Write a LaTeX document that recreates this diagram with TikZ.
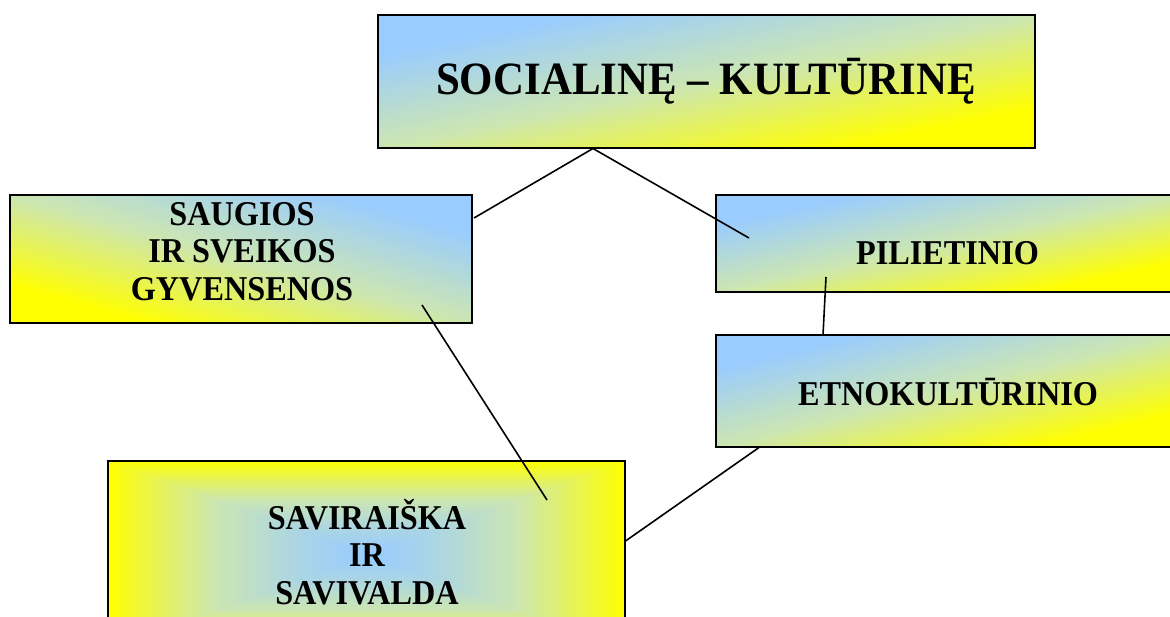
\documentclass[tikz,border=0pt]{standalone}
\usepackage{fontspec}
\setmainfont{Liberation Serif}
\newfontfamily\tallfont[FakeStretch=0.927]{Liberation Serif}
\usetikzlibrary{calc}
\definecolor{skyb}{RGB}{153,204,255}
\definecolor{midc}{RGB}{204,230,178}
\definecolor{yel}{RGB}{255,255,0}
% diagonal gradient stretched over a w x h box whose top-left corner is (x0,y0)
\newcommand\diagshade[5]{%
  \begin{scope}[transform canvas={shift={(#1,#2)}, xscale=#3/100, yscale=#4/100}]
    \shade[top color=skyb, bottom color=yel, middle color=midc, shading angle=#5] (0,0) rectangle (100,100);
  \end{scope}}
\begin{document}
\begin{tikzpicture}[x=1pt,y=-1pt,
  box/.style={draw=black, line width=2pt, rectangle, inner sep=0pt},
  bigtxt/.style={font=\tallfont\bfseries\fontsize{46.3pt}{50pt}\selectfont, anchor=base, inner sep=0pt},
  txt/.style={font=\tallfont\bfseries\fontsize{34.8pt}{37.5pt}\selectfont, anchor=base, align=center, inner sep=0pt},
  link/.style={line width=1.6pt, draw=black}]
\useasboundingbox (0,0) rectangle (1170,616);
\clip (0,0) rectangle (1170,616);
\fill[white] (0,0) rectangle (1170,616);

% gradient fills
\diagshade{378}{15}{657}{133}{45}
\diagshade{10}{195}{462}{128}{-45}
\diagshade{716}{195}{457}{97}{45}
\diagshade{716}{335}{457}{112}{45}

% rectangular centre gradient for the last box
\foreach \i in {0,...,69}{
  \pgfmathsetmacro\s{1-\i/70}
  \pgfmathsetmacro\t{\s^1.3}
  \pgfmathtruncatemacro\hi{\t>0.5}
  \ifnum\hi=1
    \pgfmathtruncatemacro\p{200*\t-100}
    \fill[yel!\p!midc] ({366.5-258.5*\s},{555-94*\s}) rectangle ({366.5+258.5*\s},{555+94*\s});
  \else
    \pgfmathtruncatemacro\p{200*\t}
    \fill[midc!\p!skyb] ({366.5-258.5*\s},{555-94*\s}) rectangle ({366.5+258.5*\s},{555+94*\s});
  \fi
}

% boxes
\node[box, minimum width=657pt, minimum height=133pt] (soc) at (706.5,81.5) {};
\node[box, minimum width=462pt, minimum height=128pt] (saug) at (241,259) {};
\node[box, minimum width=457pt, minimum height=97pt] (pil) at (944.5,243.5) {};
\node[box, minimum width=457pt, minimum height=112pt] (etno) at (944.5,391) {};
\node[box, minimum width=517pt, minimum height=188pt] (savi) at (366.5,555) {};

% texts
\node[bigtxt] (socT) at (706,94) {SOCIALINĘ – KULTŪRINĘ};
\node[txt] (saugT) at (242,300) {SAUGIOS\\IR SVEIKOS\\GYVENSENOS};
\node[txt] (pilT) at (947.5,264) {PILIETINIO};
\node[txt] (etnoT) at (948,405) {ETNOKULTŪRINIO};
\node[txt] (saviT) at (367,604) {SAVIRAIŠKA\\IR\\SAVIVALDA};

% connector ends
\coordinate (socFoot) at (593,148.5);
\coordinate (saugHook) at (474,218);
\coordinate (pilIn) at (749,238);
\coordinate (pilDown) at (826,277);
\coordinate (etnoTop) at (823,335);
\coordinate (saugIn) at (422,305);
\coordinate (saviIn) at (547,500);
\coordinate (etnoFoot) at (759,447.5);
\coordinate (saviSide) at (625.5,541);

\draw[link] (socFoot) -- (saugHook);
\draw[link] (socFoot) -- (pilIn);
\draw[link] (pilDown) -- (etnoTop);
\draw[link] (saugIn) -- (saviIn);
\draw[link] (etnoFoot) -- (saviSide);
\end{tikzpicture}
\end{document}
